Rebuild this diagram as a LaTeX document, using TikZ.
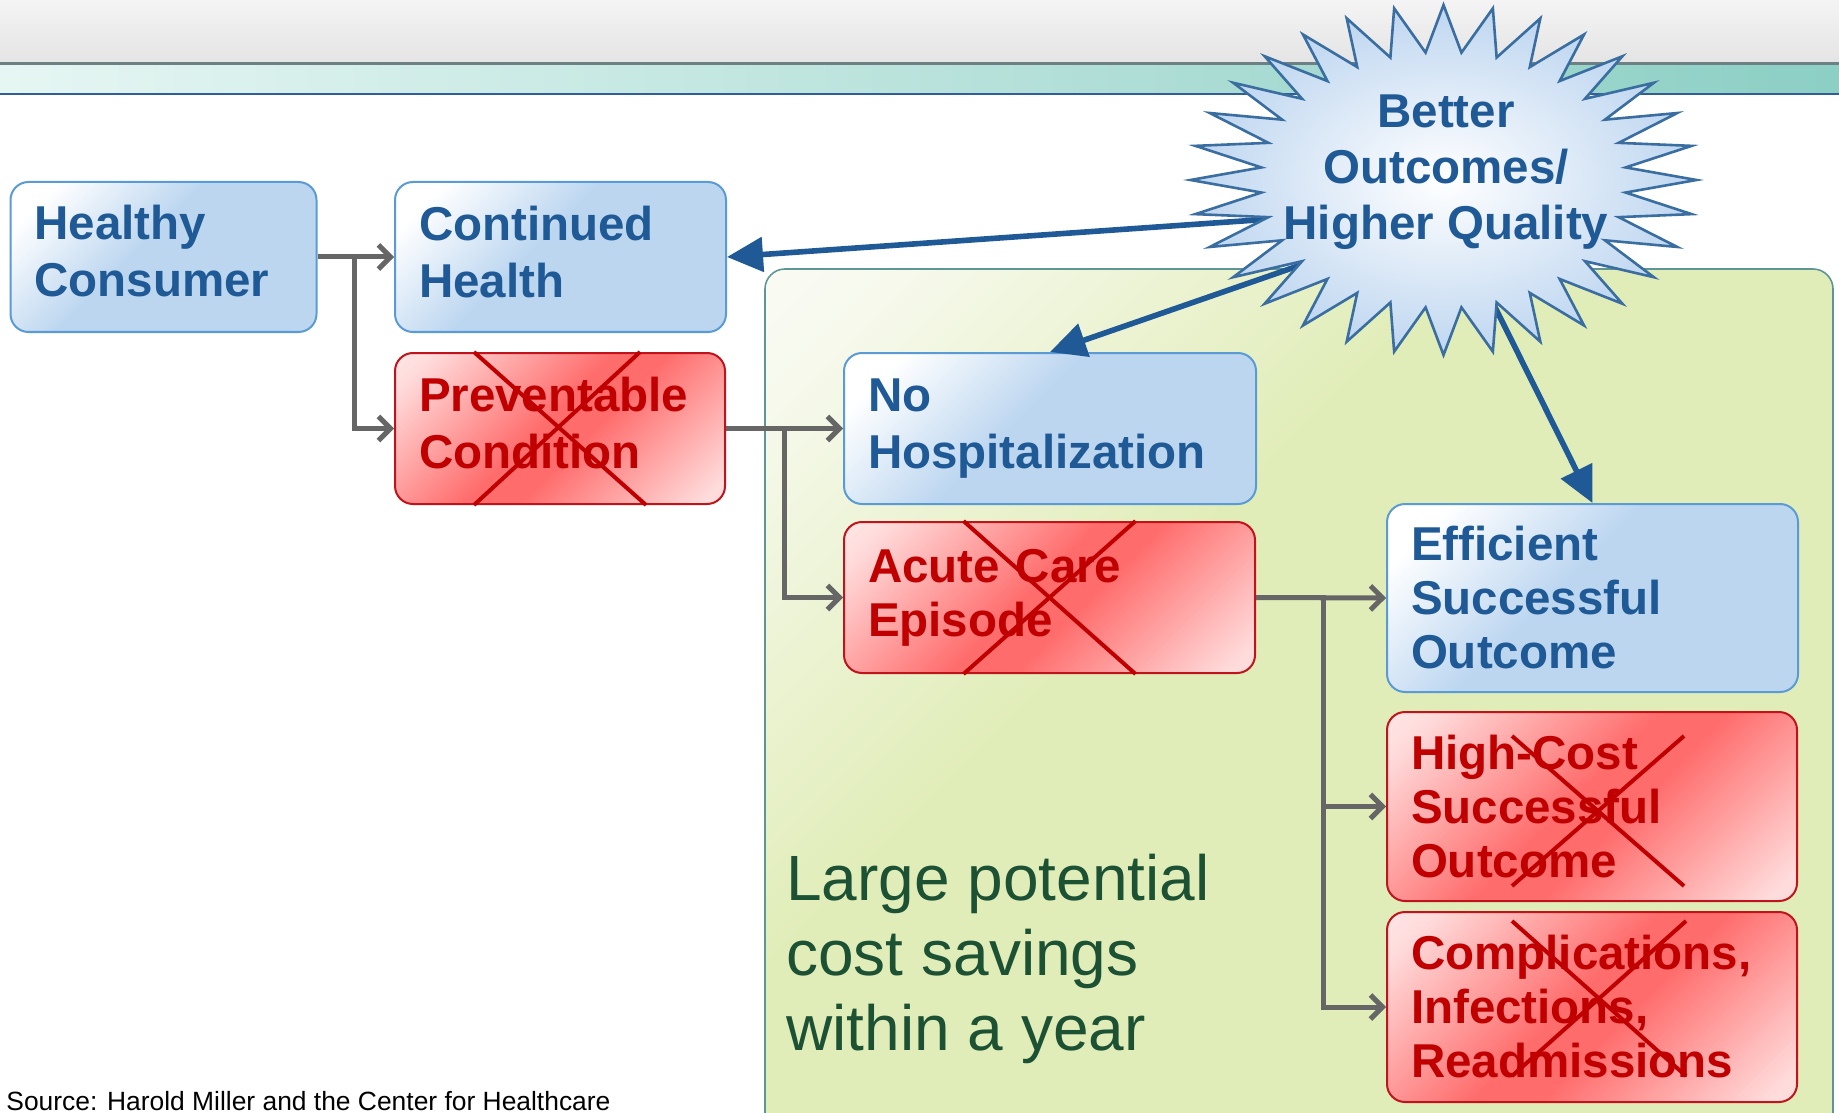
\documentclass[tikz,border=0pt]{standalone}
\usepackage{xcolor}
\usepackage{fontspec}
\setmainfont{Liberation Sans}
\usepackage{tikz}
\usetikzlibrary{arrows.meta}
\definecolor{CareBlueFill}{RGB}{188, 214, 240}
\definecolor{CareBlueEdge}{RGB}{91, 155, 213}
\definecolor{CareBlueText}{RGB}{31, 90, 150}
\definecolor{CareRedFill}{RGB}{255, 108, 108}
\definecolor{CareRedPale}{RGB}{255, 220, 220}
\definecolor{CareRedEdge}{RGB}{192, 20, 28}
\definecolor{CareRedText}{RGB}{192, 0, 0}
\definecolor{CareGrey}{RGB}{102, 102, 102}
\definecolor{CareGreenFill}{RGB}{225, 237, 185}
\definecolor{CareGreenPale}{RGB}{248, 250, 240}
\definecolor{CareGreenEdge}{RGB}{94, 150, 150}
\definecolor{CareGreenText}{RGB}{29, 81, 52}
\definecolor{CareBurstFill}{RGB}{190, 214, 240}
\definecolor{CareBurstEdge}{RGB}{58, 110, 160}
\definecolor{CareHeadTop}{RGB}{244, 244, 244}
\definecolor{CareHeadBottom}{RGB}{228, 228, 228}
\definecolor{CareHeadLine}{RGB}{110, 128, 132}
\definecolor{CareTealPale}{RGB}{230, 246, 243}
\definecolor{CareTealMid}{RGB}{170, 221, 213}
\definecolor{CareTealDeep}{RGB}{140, 207, 196}
\definecolor{CareHeadBlue}{RGB}{47, 95, 150}
\pgfdeclarehorizontalshading{blueglow}{100bp}{color(0bp)=(white); color(22bp)=(white); color(45bp)=(CareBlueFill); color(100bp)=(CareBlueFill)}
\pgfdeclarehorizontalshading{redglow}{100bp}{color(0bp)=(white); color(20bp)=(CareRedPale); color(47bp)=(CareRedFill); color(55bp)=(CareRedFill); color(82bp)=(CareRedPale); color(100bp)=(CareRedPale)}
\pgfdeclarehorizontalshading{greenglow}{100bp}{color(0bp)=(white); color(18bp)=(CareGreenPale); color(40bp)=(CareGreenFill); color(100bp)=(CareGreenFill)}
\newcommand{\boxfont}{\fontsize{23.75}{27}\selectfont\bfseries}
\newcommand{\pairfont}{\fontsize{23.75}{28.5}\selectfont\bfseries}

\begin{document}
\begin{tikzpicture}[x=0.5pt, y=-0.5pt,
    box/.style={rounded corners=9pt, line width=1pt, inner xsep=12pt, inner ysep=0pt, align=left, font=\boxfont},
    bluebox/.style={box, draw=CareBlueEdge, shade, shading=blueglow, shading angle=-45, text=CareBlueText},
    redbox/.style={box, draw=CareRedEdge, shade, shading=redglow, shading angle=-45, text=CareRedText},
    lift/.style={font=\pairfont, execute at end node={\rule[-#1]{0pt}{0pt}}},
    flow/.style={draw=CareGrey, line width=2.5pt, -{Straight Barb[length=6pt,width=12pt]}},
    push/.style={draw=CareBlueText, line width=2.8pt, -{Triangle[length=18pt,width=17pt]}},
    xline/.style={draw=CareRedText, line width=2pt}]
    \useasboundingbox (0,0) rectangle (1839,1112);
    \fill[top color=CareHeadTop, bottom color=CareHeadBottom] (0,0) rectangle (1839,63);
    \fill[left color=CareTealPale, middle color=CareTealMid, right color=CareTealDeep] (0,65) rectangle (1839,93);
    \draw[CareHeadLine, line width=1.5pt] (0,64) -- (1839,64);
    \draw[CareHeadBlue, line width=1pt] (0,94) -- (1839,94);
    \path[draw=CareGreenEdge, line width=0.8pt, shade, shading=greenglow, shading angle=-45, rounded corners=10pt] (765,269) rectangle (1833,1140);

    \node[anchor=base west, inner sep=0pt, font=\fontsize{13.2}{15}\selectfont] (source) at (6,1110) {Source: Harold Miller and the Center for Healthcare};
    \node[anchor=north west, inner sep=0pt, align=left, text=CareGreenText, font=\fontsize{32}{37.5}\selectfont] (savings) at (786,854) {Large potential\\cost savings\\within a year};

    \node[bluebox, lift=6pt, text width=129pt, minimum height=75pt] (healthy) at (163.5,257) {Healthy\\Consumer};
    \node[bluebox, lift=5pt, text width=141.5pt, minimum height=75pt] (cont) at (560.5,257) {Continued\\Health};
    \node[redbox, lift=6pt, text width=141pt, minimum height=75.5pt] (prev) at (560,428.5) {Preventable\\Condition};
    \node[bluebox, lift=2pt, text width=182pt, minimum height=75.5pt] (nohosp) at (1050,428.5) {No\\Hospitalization};
    \node[redbox, text width=181.5pt, minimum height=75.5pt] (acute) at (1049.5,597.5) {Acute Care\\Episode};
    \node[bluebox, text width=181.5pt, minimum height=94pt] (eff) at (1592.5,598) {Efficient\\Successful\\Outcome};
    \node[redbox, text width=181pt, minimum height=94.5pt] (highcost) at (1592,806.5) {High-Cost\\Successful\\Outcome};
    \node[redbox, text width=181pt, minimum height=95pt] (compl) at (1592,1007) {Complications,\\Infections,\\Readmissions};

    \draw[xline] ([xshift=-43pt]prev.north) -- ([xshift=43pt]prev.south);
    \draw[xline] ([xshift=40pt]prev.north) -- ([xshift=-43pt]prev.south);
    \draw[xline] ([xshift=-43pt]acute.north) -- ([xshift=43pt]acute.south);
    \draw[xline] ([xshift=43pt]acute.north) -- ([xshift=-43pt]acute.south);
    \draw[xline] ([shift={(-40pt,-12.5pt)}]highcost.north) -- ([shift={(46pt,8pt)}]highcost.south);
    \draw[xline] ([shift={(46pt,-12.5pt)}]highcost.north) -- ([shift={(-40pt,8pt)}]highcost.south);
    \draw[xline] ([shift={(-40pt,-5pt)}]compl.north) -- ([shift={(47pt,13.5pt)}]compl.south);
    \draw[xline] ([shift={(47pt,-5pt)}]compl.north) -- ([shift={(-40pt,13.5pt)}]compl.south);

    \draw[flow] (healthy.east) -- (cont.west);
    \draw[flow] (healthy.east) -- ++(37,0) |- (prev.west);
    \draw[flow] (prev.east) -- (nohosp.west);
    \draw[flow] (prev.east) -- ++(58,0) |- (acute.west);
    \draw[flow] (acute.east) -- (eff.west);
    \draw[flow] (acute.east) -- ++(67,0) |- (highcost.west);
    \draw[flow] (acute.east) -- ++(67,0) |- (compl.west);

    \coordinate (burst) at (1443.5,180);
    \coordinate (s1) at (1300,217);
    \coordinate (s2) at (1321,258);
    \coordinate (s3) at (1488,293);
    \draw[push] (s1) -- (cont.east);
    \draw[push] (s2) -- (nohosp.north);
    \draw[push] (s3) -- (eff.north);

    \draw[draw=CareBurstEdge, line width=1.3pt, inner color=white, outer color=CareBurstFill] ([shift={(0,175)}]burst)
      \foreach \k [evaluate=\k as \a using 90+\k*5.625, evaluate=\k as \rx using {isodd(\k)?183:253}, evaluate=\k as \ry using {isodd(\k)?128:175}] in {1,...,63} { -- ([shift={({\rx*cos(\a)},{\ry*sin(\a)})}]burst) } -- cycle;
    \node[font=\fontsize{23.75}{28}\selectfont\bfseries, text=CareBlueText, align=center] (better) at (1446,172) {Better\\Outcomes/\\Higher Quality};
  \end{tikzpicture}
\end{document}
